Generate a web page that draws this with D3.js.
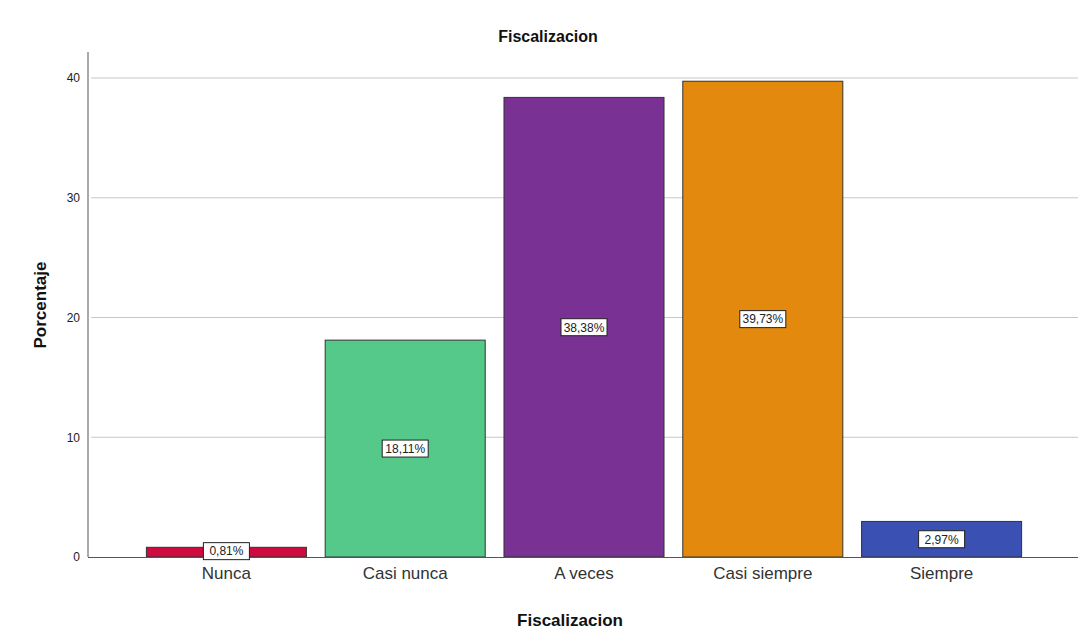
<!DOCTYPE html>
<html><head><meta charset="utf-8">
<script src="https://cdn.jsdelivr.net/npm/d3@7"></script>
<style>
body{margin:0;background:#fff;}
text{font-family:Arial,"Liberation Sans",sans-serif;}
</style></head>
<body><svg id="c" width="1078" height="641"></svg>
<script>
const categories = ["Nunca","Casi nunca","A veces","Casi siempre","Siempre"];
const values = [0.81, 18.11, 38.38, 39.73, 2.97];
const valueLabels = ["0,81%","18,11%","38,38%","39,73%","2,97%"];
const colors = ["#cf0a3e","#55c989","#7a3194","#e38a0e","#3b50b3"];
const yTicks = [0,10,20,30,40];

const svg = d3.select("#c");
const x = d3.scaleBand().domain(categories).range([137,1031]).paddingInner(0.105).paddingOuter(0.0525);
const y = d3.scaleLinear().domain([0,40]).range([557,78]);

// gridlines
svg.append("g").selectAll("line").data(yTicks.filter(d=>d>0)).join("line")
  .attr("x1",91).attr("x2",1078).attr("y1",d=>y(d)).attr("y2",d=>y(d))
  .attr("stroke","#c8c8c8").attr("stroke-width",1);

// bars
svg.append("g").selectAll("rect").data(categories).join("rect")
  .attr("x",d=>x(d)).attr("width",x.bandwidth())
  .attr("y",(d,i)=>y(values[i])).attr("height",(d,i)=>y(0)-y(values[i]))
  .attr("fill",(d,i)=>colors[i]).attr("stroke","#333").attr("stroke-width",1);

// y axis
const ya = svg.append("g").attr("transform","translate(88,0)")
  .call(d3.axisLeft(y).tickValues(yTicks).tickSize(0).tickPadding(8));
ya.select(".domain").remove();
ya.selectAll("text").attr("font-size",12).attr("fill","#222");

// x axis labels
const xa = svg.append("g").attr("transform","translate(0,557)")
  .call(d3.axisBottom(x).tickSize(0).tickPadding(10));
xa.select(".domain").remove();
xa.selectAll("text").attr("font-size",17).attr("fill","#333");

// axis lines
svg.append("line").attr("x1",88).attr("x2",88).attr("y1",52).attr("y2",557).attr("stroke","#555");
svg.append("line").attr("x1",88).attr("x2",1078).attr("y1",557.5).attr("y2",557.5).attr("stroke","#555");

// value labels
const lg = svg.append("g").selectAll("g").data(categories).join("g")
  .attr("transform",(d,i)=>`translate(${x(d)+x.bandwidth()/2},${(y(0)+y(values[i]))/2 + (i===0?-1:0)})`);
lg.append("rect").attr("x",-23).attr("y",-8.5).attr("width",46).attr("height",17)
  .attr("fill","#fff").attr("stroke","#222").attr("stroke-width",1);
lg.append("text").attr("text-anchor","middle").attr("dy","0.36em").attr("font-size",12).attr("fill","#222")
  .text((d,i)=>valueLabels[i]);

// titles
svg.append("text").attr("x",548).attr("y",42).attr("text-anchor","middle")
  .attr("font-size",16).attr("font-weight","bold").attr("fill","#111").text("Fiscalizacion");
svg.append("text").attr("x",570).attr("y",626).attr("text-anchor","middle")
  .attr("font-size",17).attr("font-weight","bold").attr("fill","#111").text("Fiscalizacion");
svg.append("text").attr("transform","translate(46,305) rotate(-90)").attr("text-anchor","middle")
  .attr("font-size",17).attr("font-weight","bold").attr("fill","#111").text("Porcentaje");
</script></body></html>
